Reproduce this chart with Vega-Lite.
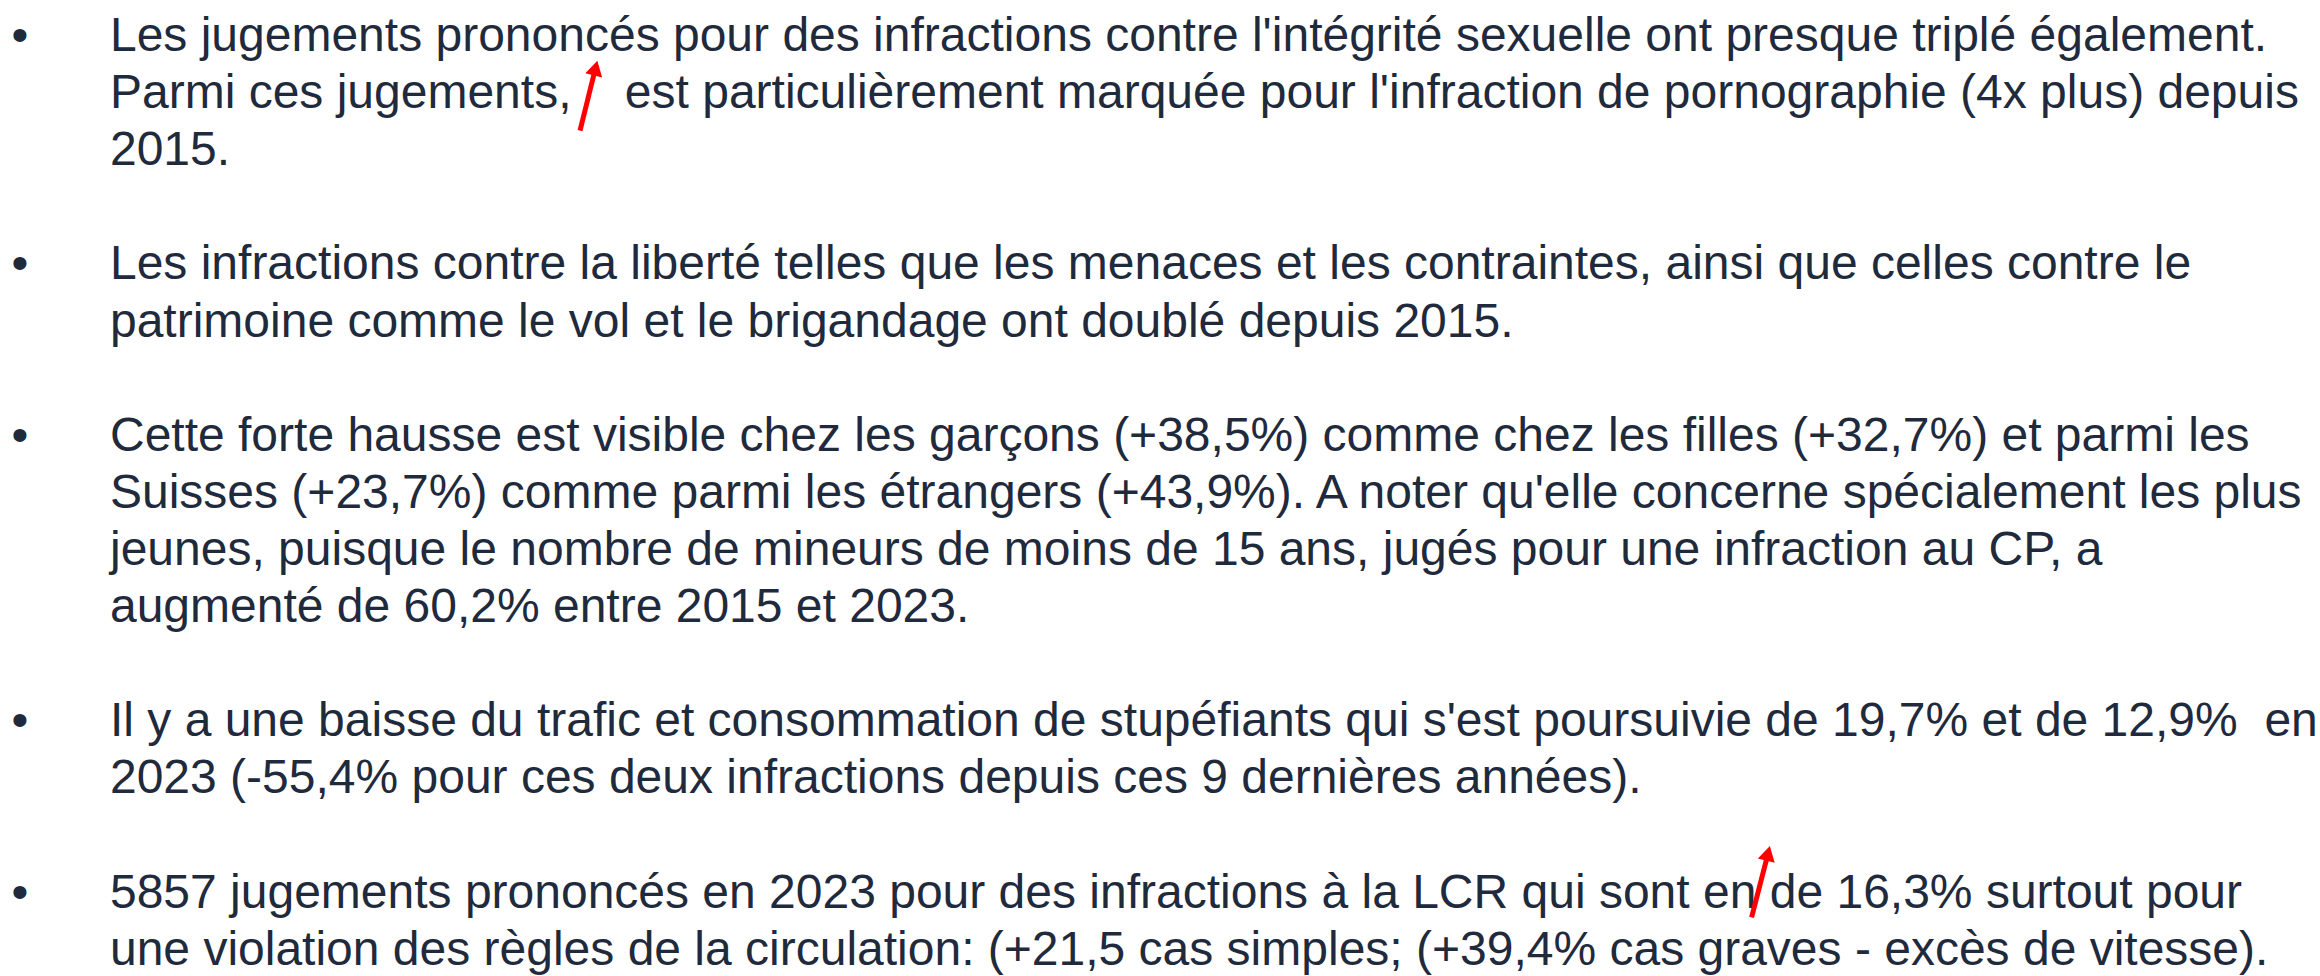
{
  "$schema": "https://vega.github.io/schema/vega-lite/v6.json",
  "width": 2320,
  "height": 976,
  "autosize": {"type": "fit", "contains": "padding"},
  "padding": 0,
  "background": "white",
  "config": {"view": {"stroke": null}},
  "datasets": {
    "lignes": [
      {"ligne": 0, "puce": true, "texte": "Les jugements prononcés pour des infractions contre l'intégrité sexuelle ont presque triplé également."},
      {"ligne": 1, "puce": false, "texte": "Parmi ces jugements,\u00a0\u00a0\u00a0 est particulièrement marquée pour l'infraction de pornographie (4x plus) depuis"},
      {"ligne": 2, "puce": false, "texte": "2015."},
      {"ligne": 4, "puce": true, "texte": "Les infractions contre la liberté telles que les menaces et les contraintes, ainsi que celles contre le"},
      {"ligne": 5, "puce": false, "texte": "patrimoine comme le vol et le brigandage ont doublé depuis 2015."},
      {"ligne": 7, "puce": true, "texte": "Cette forte hausse est visible chez les garçons (+38,5%) comme chez les filles (+32,7%) et parmi les"},
      {"ligne": 8, "puce": false, "texte": "Suisses (+23,7%) comme parmi les étrangers (+43,9%). A noter qu'elle concerne spécialement les plus"},
      {"ligne": 9, "puce": false, "texte": "jeunes, puisque le nombre de mineurs de moins de 15 ans, jugés pour une infraction au CP, a"},
      {"ligne": 10, "puce": false, "texte": "augmenté de 60,2% entre 2015 et 2023."},
      {"ligne": 12, "puce": true, "texte": "Il y a une baisse du trafic et consommation de stupéfiants qui s'est poursuivie de 19,7% et de 12,9%\u00a0 en"},
      {"ligne": 13, "puce": false, "texte": "2023 (-55,4% pour ces deux infractions depuis ces 9 dernières années)."},
      {"ligne": 15, "puce": true, "texte": "5857 jugements prononcés en 2023 pour des infractions à la LCR qui sont en de 16,3% surtout pour"},
      {"ligne": 16, "puce": false, "texte": "une violation des règles de la circulation: (+21,5 cas simples; (+39,4% cas graves - excès de vitesse)."}
    ],
    "fleches": [
      {"fleche": "hausse 1", "x_queue": 25.0, "l_queue": 1.396, "x_pointe": 25.67, "l_pointe": 0.298},
      {"fleche": "hausse 2", "x_queue": 75.5, "l_queue": 15.172, "x_pointe": 76.21, "l_pointe": 14.051}
    ]
  },
  "layer": [
    {
      "data": {"name": "lignes"},
      "mark": {"type": "text", "align": "left", "baseline": "alphabetic", "font": "Liberation Sans", "fontSize": 48, "color": "#1f2a3c"},
      "encoding": {
        "x": {"datum": 4.74, "type": "quantitative", "scale": {"domain": [0, 100], "nice": false, "zero": false}, "axis": null},
        "y": {"field": "ligne", "type": "quantitative", "scale": {"domain": [-0.893, 16.199], "nice": false, "zero": false, "reverse": true}, "axis": null},
        "text": {"field": "texte"}
      }
    },
    {
      "data": {"name": "lignes"},
      "transform": [{"filter": "datum.puce"}],
      "mark": {"type": "text", "align": "center", "baseline": "alphabetic", "font": "Liberation Sans", "fontSize": 48, "color": "#1f2a3c", "text": "•"},
      "encoding": {
        "x": {"datum": 0.86, "type": "quantitative"},
        "y": {"field": "ligne", "type": "quantitative"}
      }
    },
    {
      "data": {"name": "fleches"},
      "mark": {"type": "rule", "color": "#ff0000", "strokeWidth": 5},
      "encoding": {
        "x": {"field": "x_queue", "type": "quantitative"},
        "y": {"field": "l_queue", "type": "quantitative"},
        "x2": {"field": "x_pointe"},
        "y2": {"field": "l_pointe"}
      }
    },
    {
      "data": {"name": "fleches"},
      "mark": {"type": "point", "shape": "triangle-up", "filled": true, "color": "#ff0000", "opacity": 1, "size": 300, "angle": 14},
      "encoding": {
        "x": {"field": "x_pointe", "type": "quantitative"},
        "y": {"field": "l_pointe", "type": "quantitative"}
      }
    }
  ]
}
